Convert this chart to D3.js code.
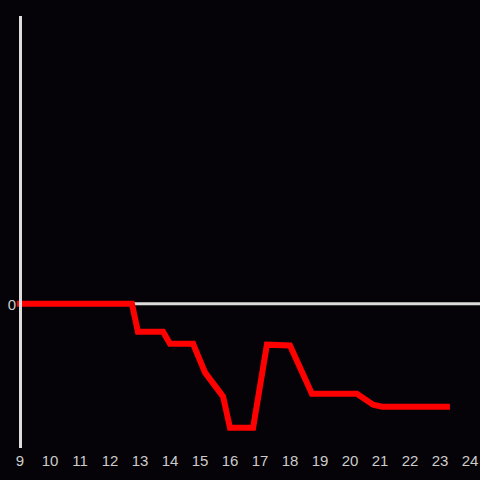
<!DOCTYPE html>
<html><head><meta charset="utf-8">
<script src="https://cdn.jsdelivr.net/npm/d3@7"></script>
<style>html,body{margin:0;padding:0;background:#050307;}svg{display:block;}</style>
</head><body>
<script>
const hours = [9, 12.73, 12.93, 13.77, 14.0, 14.77, 15.17, 15.77, 16.0, 16.77, 17.23, 18.0, 18.73, 20.23, 20.77, 21.07, 23.23];
const values = [0, 0, -0.97, -0.97, -1.39, -1.39, -2.39, -3.22, -4.30, -4.30, -1.42, -1.45, -3.12, -3.12, -3.50, -3.57, -3.57];
const xTicks = [9,10,11,12,13,14,15,16,17,18,19,20,21,22,23,24];
const yTicks = [0];

const W = 480, H = 480;
const svg = d3.select("body").append("svg").attr("width", W).attr("height", H);
svg.append("rect").attr("width", W).attr("height", H).attr("fill", "#050307");

const x = d3.scaleLinear().domain([9, 24]).range([20, 470]);
const y = d3.scaleLinear().domain([-5, 10]).range([448, 15]);

// zero line
svg.append("line").attr("x1", x(9)).attr("x2", 480).attr("y1", y(0)).attr("y2", y(0))
  .attr("stroke", "#dddddd").attr("stroke-width", 3);

const line = d3.line().x((d, i) => x(hours[i])).y(d => y(d));
svg.append("path").datum(values).attr("d", line).attr("fill", "none")
  .attr("stroke", "#ff0000").attr("stroke-width", 6).attr("stroke-linejoin", "miter")
  .attr("stroke-linecap", "square");

// y axis line
svg.append("line").attr("x1", 20.5).attr("x2", 20.5).attr("y1", y(10) + 1).attr("y2", y(-5))
  .attr("stroke", "#dddddd").attr("stroke-width", 3);

// x tick labels
svg.append("g").selectAll("text").data(xTicks).join("text")
  .attr("x", d => x(d)).attr("y", 466).attr("text-anchor", "middle")
  .attr("font-family", "Liberation Sans, Arial, sans-serif").attr("font-size", 15)
  .attr("fill", "#cccccc").text(d => d);

// y tick labels
svg.append("g").selectAll("text").data(yTicks).join("text")
  .attr("x", 16).attr("y", d => y(d) + 6).attr("text-anchor", "end")
  .attr("font-family", "Liberation Sans, Arial, sans-serif").attr("font-size", 15)
  .attr("fill", "#cccccc").text(d => d);
</script>
</body></html>
